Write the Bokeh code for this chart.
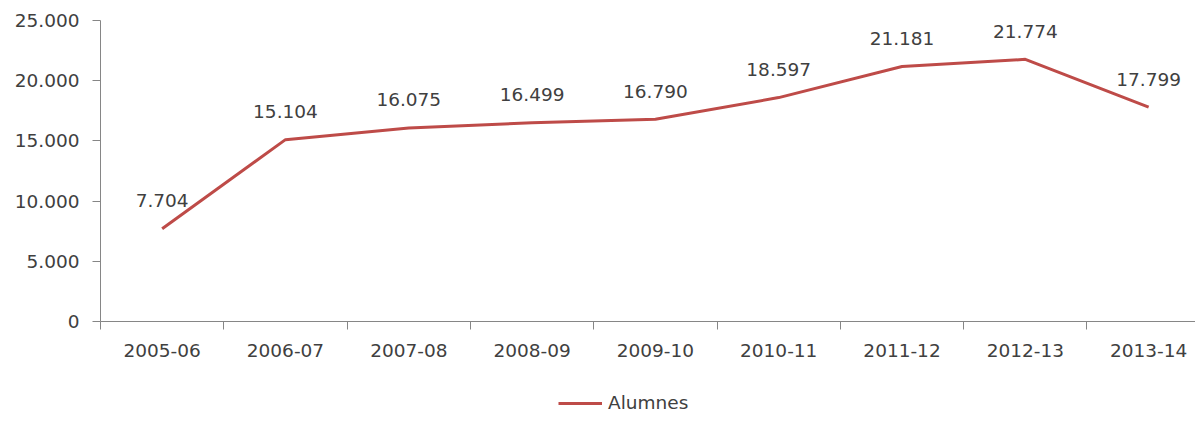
from bokeh.plotting import figure
from bokeh.layouts import column
from bokeh.models import Range1d, FixedTicker, Legend, LegendItem, ColumnDataSource
from bokeh.embed import file_html
from bokeh.resources import INLINE
from bokeh.core.properties import value

categories = ["2005-06", "2006-07", "2007-08", "2008-09", "2009-10",
              "2010-11", "2011-12", "2012-13", "2013-14"]
alumnes = [7704, 15104, 16075, 16499, 16790, 18597, 21181, 21774, 17799]
y_ticks = [0, 5000, 10000, 15000, 20000, 25000]
y_tick_labels = ["0", "5.000", "10.000", "15.000", "20.000", "25.000"]
series_name = "Alumnes"

def fmt(v):
    return f"{v:,}".replace(",", ".")

xs = [i + 0.5 for i in range(len(categories))]
src = ColumnDataSource(dict(x=xs, y=alumnes, lab=[fmt(v) for v in alumnes]))

FONT = "DejaVu Sans"
FS = "18.5px"
TXT = "#404040"
AX = "#868686"
RED = "#BE4B48"

p = figure(width=1195, height=366, output_backend="svg", toolbar_location=None,
           x_range=Range1d(0, 8.88), y_range=Range1d(0, 25000),
           min_border_left=100, min_border_right=0, min_border_top=20,
           min_border_bottom=45)
p.outline_line_color = None
p.xgrid.visible = False
p.ygrid.visible = False

line = p.line("x", "y", source=src, line_color=RED, line_width=3)
p.text("x", "y", text="lab", source=src, text_align="center",
       text_baseline="middle", y_offset=-28, text_font=value(FONT),
       text_font_size=FS, text_color=TXT)

# x axis
p.xaxis.ticker = FixedTicker(ticks=xs, minor_ticks=list(range(len(categories) + 1)))
p.xaxis.major_label_overrides = {x: c for x, c in zip(xs, categories)}
p.xaxis.major_tick_out = 0
p.xaxis.major_tick_in = 0
p.xaxis.minor_tick_out = 8
p.xaxis.minor_tick_in = 0
p.xaxis.minor_tick_line_color = AX
p.xaxis.axis_line_color = AX
p.xaxis.major_label_standoff = 14
p.xaxis.major_label_text_font = FONT
p.xaxis.major_label_text_font_size = FS
p.xaxis.major_label_text_color = TXT

# y axis
p.yaxis.ticker = FixedTicker(ticks=y_ticks, minor_ticks=[])
p.yaxis.major_label_overrides = {t: l for t, l in zip(y_ticks, y_tick_labels)}
p.yaxis.major_tick_out = 8
p.yaxis.major_tick_in = 0
p.yaxis.major_tick_line_color = AX
p.yaxis.axis_line_color = AX
p.yaxis.major_label_standoff = 13
p.yaxis.major_label_text_font = FONT
p.yaxis.major_label_text_font_size = FS
p.yaxis.major_label_text_color = TXT

# legend strip below the chart (key line uses the same series, clipped out of view)
lf = figure(width=1195, height=47, output_backend="svg", toolbar_location=None,
            x_axis_type=None, y_axis_type=None,
            x_range=Range1d(0, 1), y_range=Range1d(0, 1),
            min_border_left=0, min_border_right=0, min_border_top=0,
            min_border_bottom=0)
lf.outline_line_color = None
lf.xgrid.visible = False
lf.ygrid.visible = False
key = lf.line("x", "y", source=src, line_color=RED, line_width=3)

legend = Legend(items=[LegendItem(label=series_name, renderers=[key])],
                location=(458, 0), orientation="horizontal",
                glyph_width=44, glyph_height=20, label_standoff=6,
                padding=0, margin=0, border_line_color=None,
                background_fill_alpha=0,
                label_text_font=FONT, label_text_font_size=FS,
                label_text_color=TXT)
lf.add_layout(legend, "center")

layout = column(p, lf, spacing=0)
open("out.html", "w").write(file_html(layout, INLINE))
